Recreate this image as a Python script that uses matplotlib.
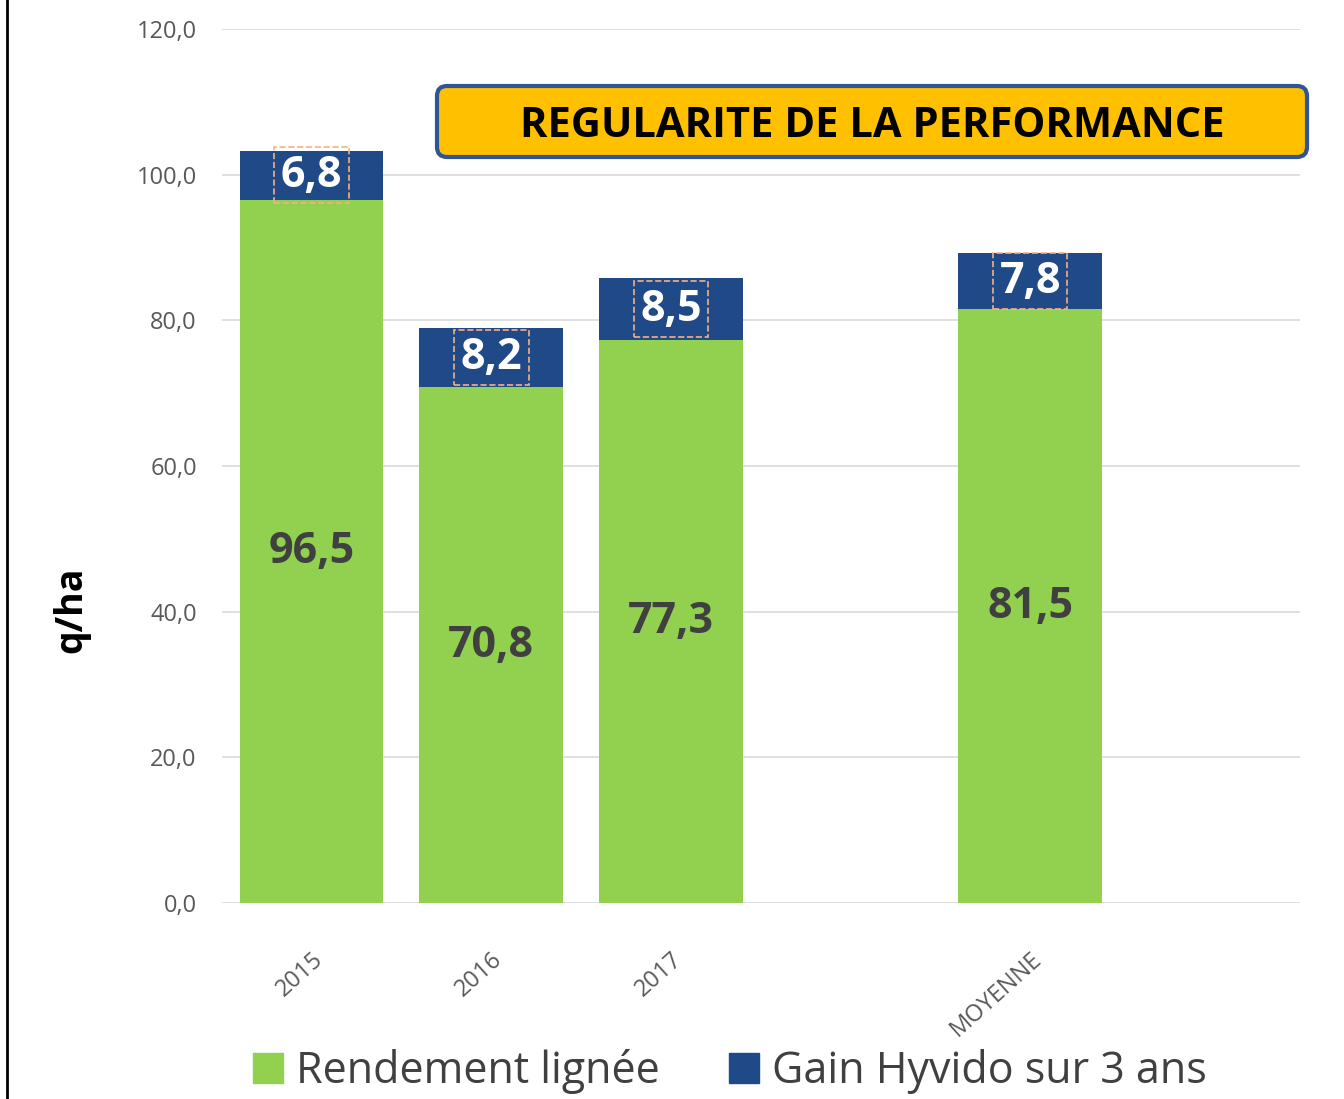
import matplotlib
matplotlib.use('Agg')
import matplotlib.pyplot as plt
from matplotlib.patches import FancyBboxPatch, Patch
from matplotlib.lines import Line2D

plt.rcParams['font.family'] = ['Open Sans', 'DejaVu Sans']

# data
categories = ['2015', '2016', '2017', '', 'MOYENNE', '']
rendement = [96.5, 70.8, 77.3, None, 81.5, None]
gain = [6.8, 8.2, 8.5, None, 7.8, None]
yticks = [0, 20, 40, 60, 80, 100, 120]

green = '#92D050'
blue = '#1F4A87'
grey_txt = '#595959'


def fr(v):
    return f'{v:.1f}'.replace('.', ',')


fig = plt.figure(figsize=(13.44, 10.99), dpi=100)
ax = fig.add_axes([0.165, 0.1783, 0.802, 0.7953])

xs = [i for i, v in enumerate(rendement) if v is not None]
base = [rendement[i] for i in xs]
top = [gain[i] for i in xs]

ax.bar(xs, base, width=0.8, color=green, zorder=2)
ax.bar(xs, top, width=0.8, bottom=base, color=blue, zorder=2)

for x, b, t in zip(xs, base, top):
    ax.text(x, b / 2, fr(b), ha='center', va='center', fontsize=31,
            fontweight='bold', color='#404040', zorder=3)
    ax.text(x, b + t / 2, fr(t), ha='center', va='center', fontsize=31,
            fontweight='bold', color='white', zorder=3,
            bbox=dict(boxstyle='square,pad=0.15', fc='none', ec='#F4B183',
                      ls='--', lw=1.2))

ax.set_xlim(-0.5, len(categories) - 0.5)
ax.set_ylim(0, 120)
ax.set_yticks(yticks)
ax.set_yticklabels([fr(v) for v in yticks], fontsize=17, color=grey_txt)
ax.set_xticks(range(len(categories)))
ax.set_xticklabels(categories, rotation=42, ha='right', rotation_mode='anchor',
                   fontsize=17, color=grey_txt)
ax.tick_params(axis='both', length=0)
ax.tick_params(axis='y', pad=18)
ax.tick_params(axis='x', pad=32)
ax.grid(axis='y', color='#D9D9D9', lw=1.2, zorder=0)
for s in ax.spines.values():
    s.set_visible(False)

fig.text(0.053, 0.445, 'q/ha', rotation=90, ha='center', va='center',
         fontsize=27, fontweight='bold', color='black')

# title banner
box = FancyBboxPatch((4.37, 9.42), 8.70, 0.71,
                     boxstyle='round,pad=0,rounding_size=0.1',
                     transform=fig.dpi_scale_trans, fc='#FFC000', ec='#2F5597',
                     lw=3, zorder=5)
fig.patches.append(box)
fig.text(0.6488, 0.885, 'REGULARITE DE LA PERFORMANCE', ha='center', va='center',
         fontsize=30, fontweight='bold', color='black', zorder=6)

handles = [Patch(color=green, label='Rendement lignée'),
           Patch(color=blue, label='Gain Hyvido sur 3 ans')]
fig.legend(handles=handles, loc='center', bbox_to_anchor=(0.543, 0.025), ncol=2,
           frameon=False, fontsize=31, labelcolor='#404040', handlelength=0.7,
           handleheight=0.7, handletextpad=0.3, columnspacing=1.6)

# left frame line
fig.add_artist(Line2D([0.005, 0.005], [0, 1], color='black', lw=2,
                      transform=fig.transFigure))

fig.savefig('out.png', dpi=100)
